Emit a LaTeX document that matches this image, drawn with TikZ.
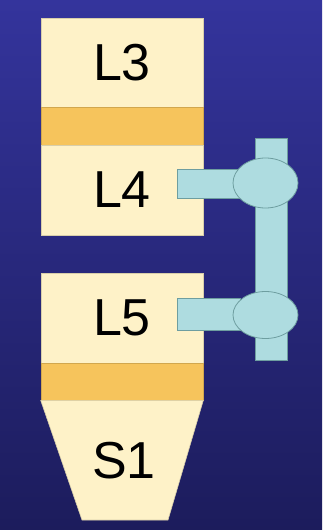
\documentclass[tikz,border=0pt]{standalone}
\usepackage{fontspec}
\setmainfont{Liberation Sans}
\usetikzlibrary{shapes.geometric,positioning}

\definecolor{bgtop}{RGB}{52,52,156}
\definecolor{bgbot}{RGB}{28,28,92}
\definecolor{bone}{RGB}{254,242,200}
\definecolor{disc}{RGB}{246,196,92}
\definecolor{screw}{RGB}{174,220,224}
\definecolor{screwline}{RGB}{110,158,160}

\tikzset{
	vert/.style={rectangle,fill=bone,draw=bone!85!black,line width=0.6pt,
		minimum width=162pt,font=\fontsize{52}{60}\selectfont,inner sep=0pt},
	disc/.style={rectangle,fill=disc,draw=disc!85!black,line width=0.6pt,
		minimum width=162pt,inner sep=0pt},
	rodpart/.style={rectangle,fill=screw,draw=screwline,line width=0.8pt,inner sep=0pt},
	joint/.style={ellipse,fill=screw,draw=screwline,line width=0.8pt,inner sep=0pt}
}

\begin{document}
\begin{tikzpicture}[x=1pt,y=-1pt]
			\useasboundingbox (0,0) rectangle (322,530);
			\fill[top color=bgtop,bottom color=bgbot] (0,0) rectangle (322,530);

			% spine column
			\node[vert,minimum height=89pt] (l3) at (122,62.5) {L3};
			\node[disc,minimum height=38pt] (d34) at (122,126) {};
			\node[vert,minimum height=90pt] (l4) at (122,190) {L4};
			\node[vert,minimum height=90pt] (l5) at (122,318) {L5};
			\node[disc,minimum height=37pt] (d5s) at (122,381.5) {};
			\draw[fill=bone,draw=bone!85!black,line width=0.6pt]
				(d5s.south west) -- (d5s.south east) -- (168,520) -- (82,520) -- cycle;
			\node[font=\fontsize{52}{60}\selectfont,inner sep=0pt] (s1) at (124,461) {S1};

			% fixation rod with two screws
			\begin{scope}[every node/.style={rodpart}]
				\node[minimum width=32pt,minimum height=222pt] (rod) at (271,249) {};
				\node[minimum width=63pt,minimum height=29pt] (screw4) at (208.5,183.5) {};
				\node[minimum width=63pt,minimum height=32pt] (screw5) at (208.5,314) {};
			\end{scope}
			\begin{scope}[every node/.style={joint}]
				\node[minimum width=65pt,minimum height=50pt] (j4) at (265.5,183) {};
				\node[minimum width=65pt,minimum height=47pt] (j5) at (265.5,315) {};
			\end{scope}
		\end{tikzpicture}
\end{document}
